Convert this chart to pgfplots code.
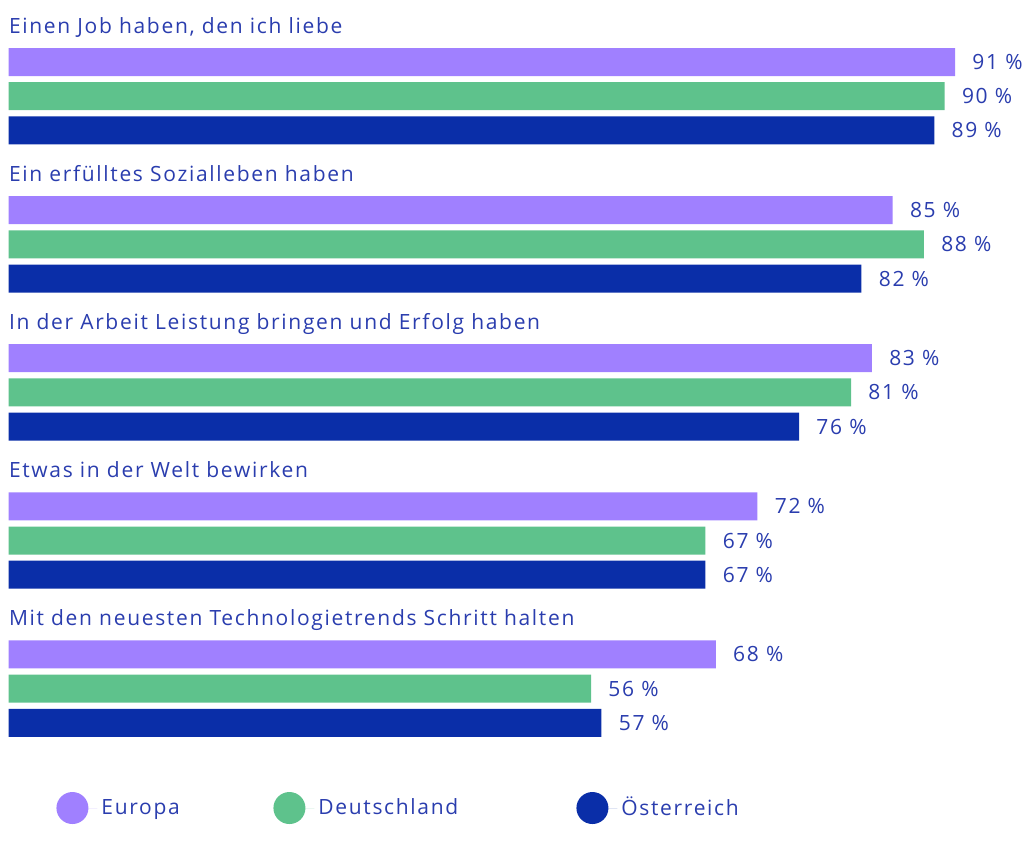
\documentclass[border=0pt]{standalone}
\usepackage{fontspec}
\setmainfont{Open Sans}[LetterSpace=8]
\usepackage{pgfplots}
\pgfplotsset{compat=1.18}
\definecolor{eu}{HTML}{A080FF}
\definecolor{de}{HTML}{5EC28C}
\definecolor{at}{HTML}{0A2EA8}
\definecolor{txt}{HTML}{2A3DAE}
\begin{document}
\begin{tikzpicture}
\begin{axis}[
  scale only axis, width=512pt, height=421pt,
  xmin=-0.827, xmax=97.63, ymin=0, ymax=842, y dir=reverse,
  hide axis, clip=false,
  xbar, bar width=14pt, bar shift=0pt,
  point meta=x,
  nodes near coords={\pgfmathprintnumber{\pgfplotspointmeta}~\%},
  nodes near coords style={anchor=west, xshift=8.5pt, inner sep=0pt, text=txt, font=\fontsize{10.5}{12}\selectfont},
  /pgf/number format/assume math mode=true,
  /pgf/number format/fixed, /pgf/number format/precision=0,
  legend columns=3,
  legend style={at={(axis cs:4.56,808)}, anchor=west, draw=none, fill=none, inner sep=0pt,
    font=\fontsize{10.5}{12}\selectfont, text=txt,
    /tikz/every even column/.append style={column sep=0pt}},
  legend cell align=left,
  legend image code/.code={\path (0pt,0pt) -- (20.5pt,0pt); \fill[#1] (8pt,0pt) circle (8pt);},
]
\addplot[fill=eu, draw=none] coordinates {(91,62) (85,210.1) (83,358.2) (72,506.3) (68,654.4)};
\addlegendentry{\makebox[84pt][l]{Europa}}
\addplot[fill=de, draw=none] coordinates {(90,96.2) (88,244.3) (81,392.4) (67,540.5) (56,688.6)};
\addlegendentry{\makebox[127pt][l]{Deutschland}}
\addplot[fill=at, draw=none] coordinates {(89,130.4) (82,278.5) (76,426.6) (67,574.7) (57,722.8)};
\addlegendentry{Österreich}

\path (rel axis cs:0,0) rectangle (rel axis cs:1,1);
\begin{scope}[every node/.style={anchor=base west, inner sep=0pt, text=txt, font=\fontsize{10.5}{12}\selectfont}]
\node at (axis cs:0,33.3) {Einen Job haben, den ich liebe};
\node at (axis cs:0,181.4) {Ein erfülltes Sozialleben haben};
\node at (axis cs:0,329.5) {In der Arbeit Leistung bringen und Erfolg haben};
\node at (axis cs:0,477.6) {Etwas in der Welt bewirken};
\node at (axis cs:0,625.7) {Mit den neuesten Technologietrends Schritt halten};
\end{scope}
\end{axis}
\end{tikzpicture}
\end{document}
